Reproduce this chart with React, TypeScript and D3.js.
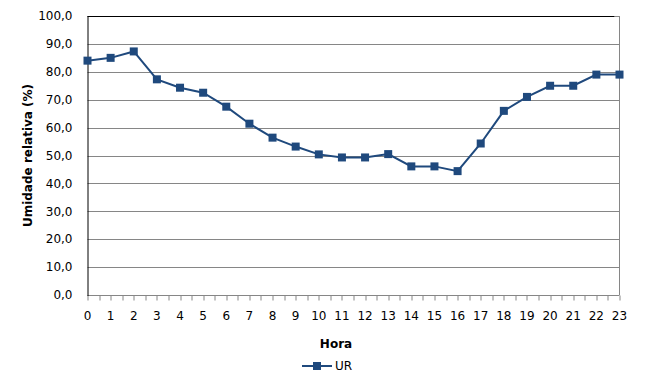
import React, { useEffect, useRef } from "react";
import * as d3 from "d3";

const hours = [0, 1, 2, 3, 4, 5, 6, 7, 8, 9, 10, 11, 12, 13, 14, 15, 16, 17, 18, 19, 20, 21, 22, 23];
const urValues = [84, 85, 87.3, 77.3, 74.3, 72.5, 67.5, 61.4, 56.4, 53.2, 50.4, 49.3, 49.3, 50.5, 46.1, 46.1, 44.4, 54.3, 66, 71, 75, 75, 79, 79];
const yTicks = [0, 10, 20, 30, 40, 50, 60, 70, 80, 90, 100];
const seriesName = "UR";
const xTitle = "Hora";
const yTitle = "Umidade relativa (%)";

const W = 663;
const H = 388;
const FONT = "'DejaVu Sans', Verdana, sans-serif";
const BLUE = "#1F497D";

const App = () => {
  const svgRef = useRef<SVGSVGElement>(null);

  useEffect(() => {
    const svg = d3.select(svgRef.current);
    svg.selectAll("*").remove();

    const margin = { top: 16, right: 43.5, bottom: 93, left: 87.5 };
    const width = W - margin.left - margin.right;
    const height = H - margin.top - margin.bottom;

    const x = d3.scaleLinear().domain([0, 23]).range([0, width]);
    const y = d3.scaleLinear().domain([0, 100]).range([height, 0]);

    const g = svg.append("g").attr("transform", `translate(${margin.left},${margin.top})`);

    // gridlines
    g.selectAll("line.grid")
      .data(yTicks.filter((t) => t > 0 && t < 100))
      .enter()
      .append("line")
      .attr("class", "grid")
      .attr("x1", 0)
      .attr("x2", width)
      .attr("y1", (d) => Math.round(y(d)) + 0.5)
      .attr("y2", (d) => Math.round(y(d)) + 0.5)
      .attr("stroke", "#868686")
      .attr("stroke-width", 1);

    // right border (gray) and top (black)
    g.append("line")
      .attr("x1", width).attr("x2", width)
      .attr("y1", y(100)).attr("y2", height)
      .attr("stroke", "#868686");
    g.append("line")
      .attr("x1", width - 5).attr("x2", width)
      .attr("y1", y(100) + 0.5).attr("y2", y(100) + 0.5)
      .attr("stroke", "#868686");
    g.append("line")
      .attr("x1", 0).attr("x2", width - 5)
      .attr("y1", y(100) + 0.5).attr("y2", y(100) + 0.5)
      .attr("stroke", "#000");

    // x axis with half-hour ticks
    const xAxis = g.append("g").attr("transform", `translate(0,${height + 0.5})`);
    xAxis.append("line").attr("x1", 0).attr("x2", width).attr("stroke", "#868686");
    xAxis
      .selectAll("line.tick")
      .data(d3.range(0, 23.01, 0.5))
      .enter()
      .append("line")
      .attr("class", "tick")
      .attr("x1", (d) => Math.round(x(d)) + 0.5)
      .attr("x2", (d) => Math.round(x(d)) + 0.5)
      .attr("y1", 0)
      .attr("y2", 5)
      .attr("stroke", "#868686");
    xAxis
      .selectAll("text")
      .data(hours)
      .enter()
      .append("text")
      .attr("x", (d) => x(d))
      .attr("y", 24)
      .attr("text-anchor", "middle")
      .attr("font-family", FONT)
      .attr("font-size", 12)
      .attr("fill", "#000")
      .text((d) => String(d));

    // y axis
    g.append("line")
      .attr("x1", 0.5).attr("x2", 0.5)
      .attr("y1", 0).attr("y2", height + 1)
      .attr("stroke", "#000");
    g.selectAll("text.ytick")
      .data(yTicks)
      .enter()
      .append("text")
      .attr("class", "ytick")
      .attr("x", -15)
      .attr("y", (d) => y(d))
      .attr("dy", "0.35em")
      .attr("text-anchor", "end")
      .attr("font-family", FONT)
      .attr("font-size", 12)
      .attr("fill", "#000")
      .text((d) => d.toFixed(1).replace(".", ","));

    // titles
    svg.append("text")
      .attr("transform", `translate(32,${margin.top + height / 2}) rotate(-90)`)
      .attr("text-anchor", "middle")
      .attr("font-family", FONT)
      .attr("font-size", 12)
      .attr("font-weight", "bold")
      .text(yTitle);
    svg.append("text")
      .attr("x", 336)
      .attr("y", 348)
      .attr("text-anchor", "middle")
      .attr("font-family", FONT)
      .attr("font-size", 12)
      .attr("font-weight", "bold")
      .text(xTitle);

    // series line + markers
    const line = d3
      .line<number>()
      .x((_, i) => x(hours[i]))
      .y((d) => y(d));
    g.append("path")
      .datum(urValues)
      .attr("d", line)
      .attr("fill", "none")
      .attr("stroke", BLUE)
      .attr("stroke-width", 2);
    g.selectAll("rect.pt")
      .data(urValues)
      .enter()
      .append("rect")
      .attr("class", "pt")
      .attr("x", (_, i) => x(hours[i]) - 4)
      .attr("y", (d) => y(d) - 4)
      .attr("width", 8)
      .attr("height", 8)
      .attr("fill", BLUE);

    // legend
    const leg = svg.append("g").attr("transform", "translate(302,366)");
    leg.append("line").attr("x1", 0).attr("x2", 30).attr("stroke", BLUE).attr("stroke-width", 2);
    leg.append("rect").attr("x", 11).attr("y", -4).attr("width", 8).attr("height", 8).attr("fill", BLUE);
    leg.append("text")
      .attr("x", 33)
      .attr("y", 0)
      .attr("dy", "0.35em")
      .attr("font-family", FONT)
      .attr("font-size", 12)
      .text(seriesName);
  }, []);

  return (
    <svg
      ref={svgRef}
      width={W}
      height={H}
      style={{ position: "absolute", left: 0, top: 0, background: "#fff" }}
    />
  );
};

export default App;
